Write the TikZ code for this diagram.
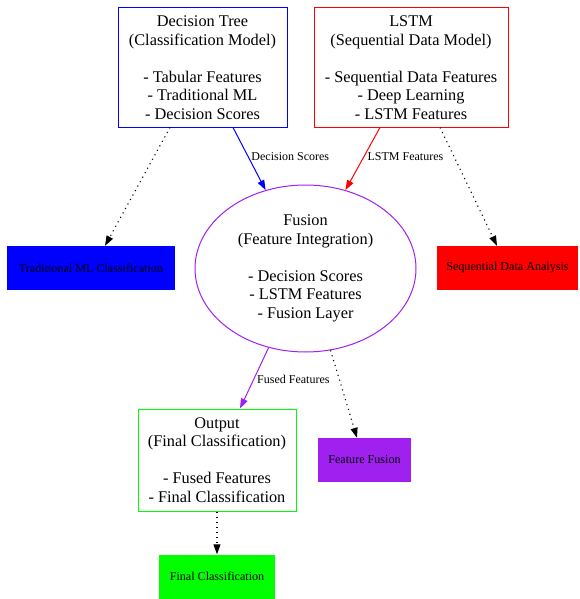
\documentclass[tikz,border=0pt]{standalone}
\usepackage{fontspec}
\setmainfont{Liberation Serif}
\usepackage{tikz}
\usetikzlibrary{positioning, shapes.geometric, arrows.meta, calc}
\definecolor{gvpurple}{RGB}{160,32,240}
\definecolor{gvgreen}{RGB}{0,255,0}

\begin{document}
\begin{tikzpicture}[
  x=1pt, y=-1pt,
  model/.style={rectangle, draw, line width=1pt, align=center, inner sep=0pt, font=\fontsize{16.3}{18.5}\selectfont},
  task/.style={rectangle, inner sep=0pt, font=\fontsize{12.1}{13}\selectfont},
  arr/.style={-{Triangle[length=10pt, width=7pt]}, line width=1pt},
  dotline/.style={-{Triangle[length=10pt, width=7pt]}, line width=1.1pt, dash pattern=on 1.1pt off 4pt},
  lbl/.style={font=\fontsize{12}{13}\selectfont, anchor=west, inner sep=3pt},
]
  \useasboundingbox (0,0) rectangle (579,599);

  \node[model, blue, text=black, minimum width=169pt, minimum height=119pt] (dt) at (202.5, 67.5)
    {Decision Tree\\(Classification Model)\\[18.5pt]- Tabular Features\\- Traditional ML\\- Decision Scores};
  \node[model, red, text=black, minimum width=194pt, minimum height=119pt] (lstm) at (411, 67.5)
    {LSTM\\(Sequential Data Model)\\[18.5pt]- Sequential Data Features\\- Deep Learning\\- LSTM Features};
  \node[model, ellipse, gvpurple, text=black, minimum width=221pt, minimum height=167pt] (fus) at (305.5, 268.5)
    {Fusion\\(Feature Integration)\\[18.5pt]- Decision Scores\\- LSTM Features\\- Fusion Layer};
  \node[model, gvgreen, text=black, minimum width=158pt, minimum height=102pt] (out) at (217, 460)
    {Output\\(Final Classification)\\[18.5pt]- Fused Features\\- Final Classification};

  \node[task, fill=blue, minimum width=168pt, minimum height=44pt] (trad) at (91, 268) {Traditional ML Classification};
  \node[task, fill=red, minimum width=141pt, minimum height=44pt] (seq) at (507.5, 268) {Sequential Data Analysis};
  \node[task, fill=gvpurple, minimum width=93pt, minimum height=44pt] (ffus) at (364.5, 460) {Feature Fusion};
  \node[task, fill=gvgreen, minimum width=116pt, minimum height=44pt] (final) at (217, 576.5) {Final Classification};

  \draw[arr, blue] ([xshift=30.5pt]dt.south) -- node[lbl, pos=0.46, text=black] {Decision Scores} (fus.117);
  \draw[arr, red] ([xshift=-31pt]lstm.south) -- node[lbl, pos=0.46, text=black] {LSTM Features} (fus.63);
  \draw[arr, gvpurple] (fus.245) -- node[lbl, pos=0.52, text=black] {Fused Features} ([xshift=23pt]out.north);

  \draw[dotline] ([xshift=-32.5pt]dt.south) -- ([xshift=14pt]trad.north);
  \draw[dotline] ([xshift=29pt]lstm.south) -- ([xshift=-10.5pt]seq.north);
  \draw[dotline] (fus.287) -- ([xshift=-7.5pt]ffus.north);
  \draw[dotline] (out.south) -- (final.north);
\end{tikzpicture}
\end{document}
